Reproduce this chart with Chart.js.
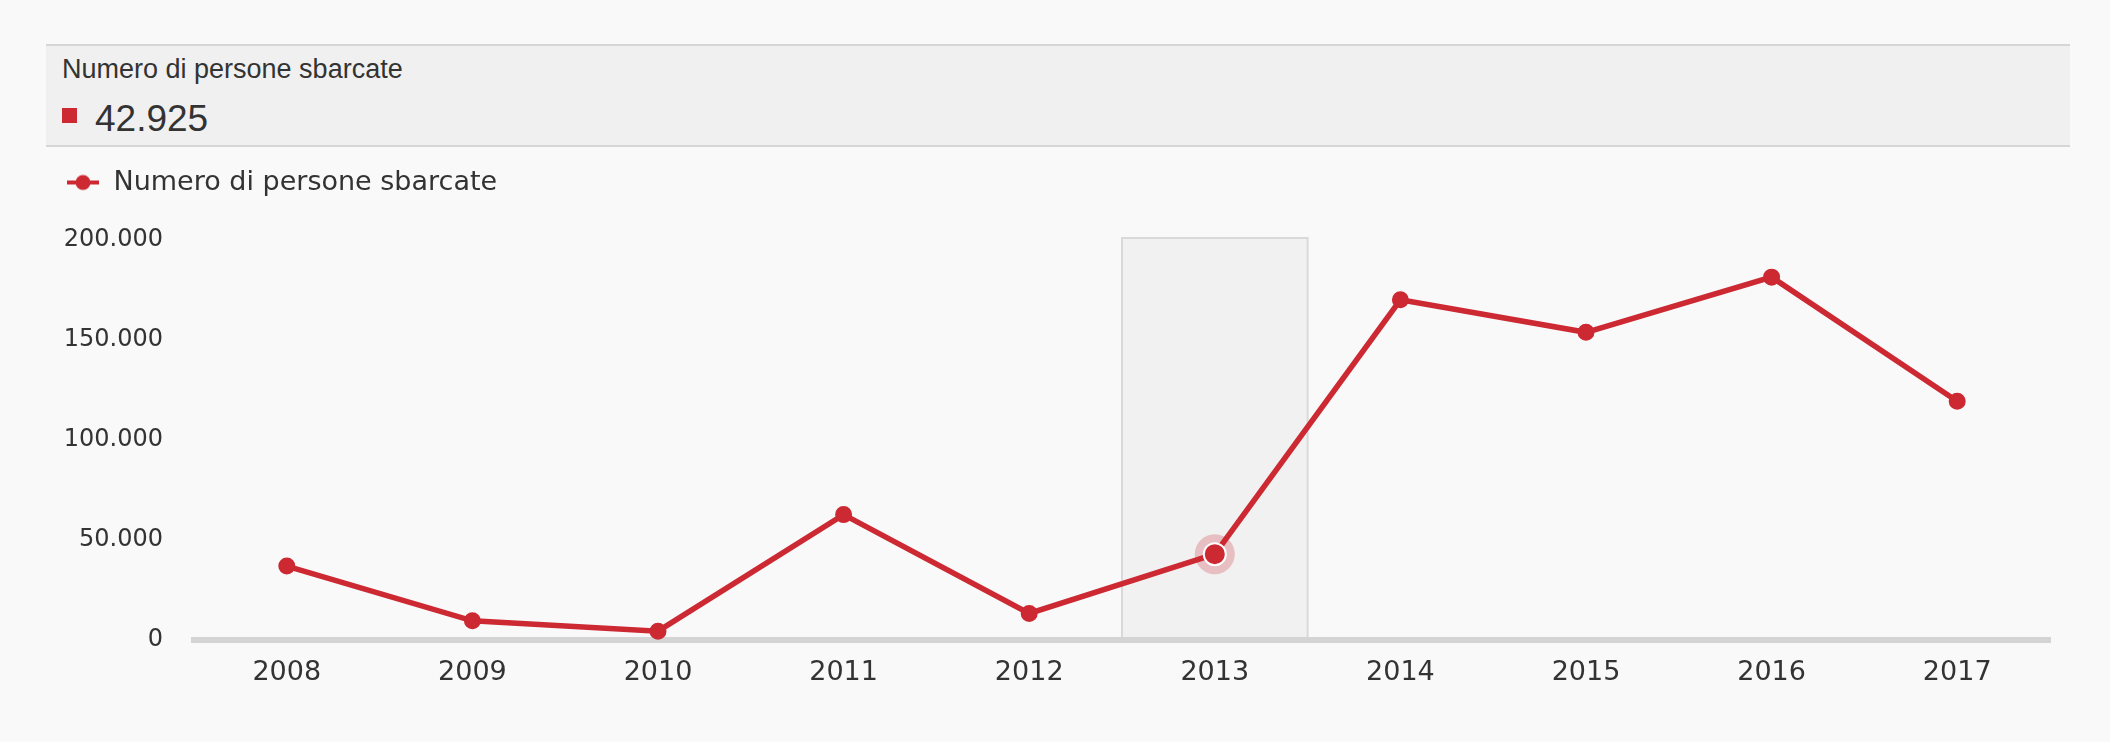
<!DOCTYPE html>
<html>
<head>
<meta charset="utf-8">
<script src="https://cdn.jsdelivr.net/npm/chart.js"></script>
<style>
    body { margin: 0; background: #f9f9f9; }
    #wrap { position: relative; width: 2110px; height: 742px; }
    #chart { position: absolute; left: 0; top: 0; }
    #tip {
        position: absolute; left: 46px; top: 44px; width: 2024px; height: 103px;
        box-sizing: border-box; background: #f0f0f0;
        border-top: 2px solid #d6d6d6; border-bottom: 2px solid #d6d6d6;
        font-family: "Liberation Sans", Arial, sans-serif; color: #333;
    }
    #tip-title { position: absolute; left: 16px; top: 10px; font-size: 27px; line-height: 27px; white-space: nowrap; }
    #tip-swatch { position: absolute; left: 16px; top: 62px; width: 15px; height: 15px; background: #cc2933; }
    #tip-num { position: absolute; left: 49px; top: 54px; font-size: 37px; line-height: 37px; }
</style>
</head>
<body>
<div id="wrap">
    <canvas id="chart" width="2110" height="742"></canvas>
    <div id="tip">
        <div id="tip-title"></div>
        <div id="tip-swatch"></div>
        <div id="tip-num"></div>
    </div>
</div>
<script>
// data
const years = ['2008', '2009', '2010', '2011', '2012', '2013', '2014', '2015', '2016', '2017'];
const sbarcati = [36951, 9573, 4406, 62692, 13267, 42925, 170100, 153842, 181436, 119369];
const yTicks = [0, 50000, 100000, 150000, 200000];
const seriesLabel = 'Numero di persone sbarcate';
const highlightIndex = 5; // 2013 is the hovered year

const red = '#cc2933';

function fmt(v) {
    return String(v).replace(/\B(?=(\d{3})+(?!\d))/g, '.');
}

// tooltip box on top
document.getElementById('tip-title').textContent = seriesLabel;
document.getElementById('tip-num').textContent = fmt(sbarcati[highlightIndex]);

// legend marker: line with a dot
let marker = document.createElement('canvas');
marker.width = 32;
marker.height = 18;
let mc = marker.getContext('2d');
mc.strokeStyle = red;
mc.lineWidth = 4;
mc.beginPath();
mc.moveTo(0, 9);
mc.lineTo(32, 9);
mc.stroke();
mc.fillStyle = red;
mc.beginPath();
mc.arc(16, 9, 7.5, 0, Math.PI * 2);
mc.fill();

let radii = years.map((y, i) => i === highlightIndex ? 11 : 7.5);
let borderCols = years.map((y, i) => i === highlightIndex ? '#ffffff' : red);

const legendGap = {
    id: 'legendGap',
    beforeInit(chart) {
        const fit = chart.legend.fit;
        chart.legend.fit = function () {
            fit.bind(chart.legend)();
            this.height += 34;
        };
    }
};

const hoverBand = {
    id: 'hoverBand',
    beforeDraw(chart) {
        const ctx = chart.ctx;
        const x = chart.scales.x;
        const area = chart.chartArea;
        const w = x.getPixelForValue(1) - x.getPixelForValue(0);
        const cx = x.getPixelForValue(highlightIndex);
        ctx.save();
        ctx.fillStyle = '#f1f1f1';
        ctx.fillRect(cx - w / 2, area.top - 2, w, area.bottom - area.top + 2);
        ctx.strokeStyle = '#d9d9d9';
        ctx.lineWidth = 2;
        ctx.beginPath();
        ctx.moveTo(cx - w / 2, area.bottom);
        ctx.lineTo(cx - w / 2, area.top - 2);
        ctx.lineTo(cx + w / 2, area.top - 2);
        ctx.lineTo(cx + w / 2, area.bottom);
        ctx.stroke();
        ctx.restore();
    },
    beforeDatasetsDraw(chart) {
        const pt = chart.getDatasetMeta(0).data[highlightIndex];
        const ctx = chart.ctx;
        ctx.save();
        ctx.fillStyle = 'rgba(204, 41, 51, 0.25)';
        ctx.beginPath();
        ctx.arc(pt.x, pt.y, 20, 0, Math.PI * 2);
        ctx.fill();
        ctx.restore();
    }
};

var linechart = document.getElementById('chart').getContext('2d');

var chartview = new Chart(linechart, {
    type: 'line',
    data: {
        labels: years,
        datasets: [{
            label: seriesLabel,
            data: sbarcati,
            borderColor: red,
            backgroundColor: red,
            borderWidth: 5.5,
            pointRadius: radii,
            pointBorderWidth: 2,
            pointBorderColor: borderCols,
            pointBackgroundColor: red,
            tension: 0
        }]
    },
    options: {
        responsive: false,
        animation: false,
        events: [],
        layout: { padding: { left: 56, right: 60, top: 159, bottom: 0 } },
        plugins: {
            tooltip: { enabled: false },
            legend: {
                position: 'top',
                align: 'start',
                labels: {
                    usePointStyle: true,
                    pointStyle: marker,
                    pointStyleWidth: 34,
                    padding: 10,
                    color: '#333',
                    font: { family: 'DejaVu Sans', size: 27 }
                }
            }
        },
        scales: {
            x: {
                offset: true,
                grid: { display: false, drawTicks: false },
                border: { display: true, color: '#d4d4d4', width: 6 },
                ticks: {
                    padding: 17,
                    color: '#333',
                    font: { family: 'DejaVu Sans', size: 27 }
                },
                afterFit: function (s) { s.height = 102; }
            },
            y: {
                min: 0,
                max: 200000,
                grid: { display: false, drawTicks: false },
                border: { display: false },
                ticks: {
                    padding: 31,
                    color: '#333',
                    font: { family: 'DejaVu Sans', size: 24 },
                    callback: function (v) { return fmt(v); }
                },
                afterBuildTicks: function (s) { s.ticks = yTicks.map(v => ({ value: v })); },
                afterFit: function (s) { s.width = 138; }
            }
        }
    },
    plugins: [legendGap, hoverBand]
});
</script>
</body>
</html>
